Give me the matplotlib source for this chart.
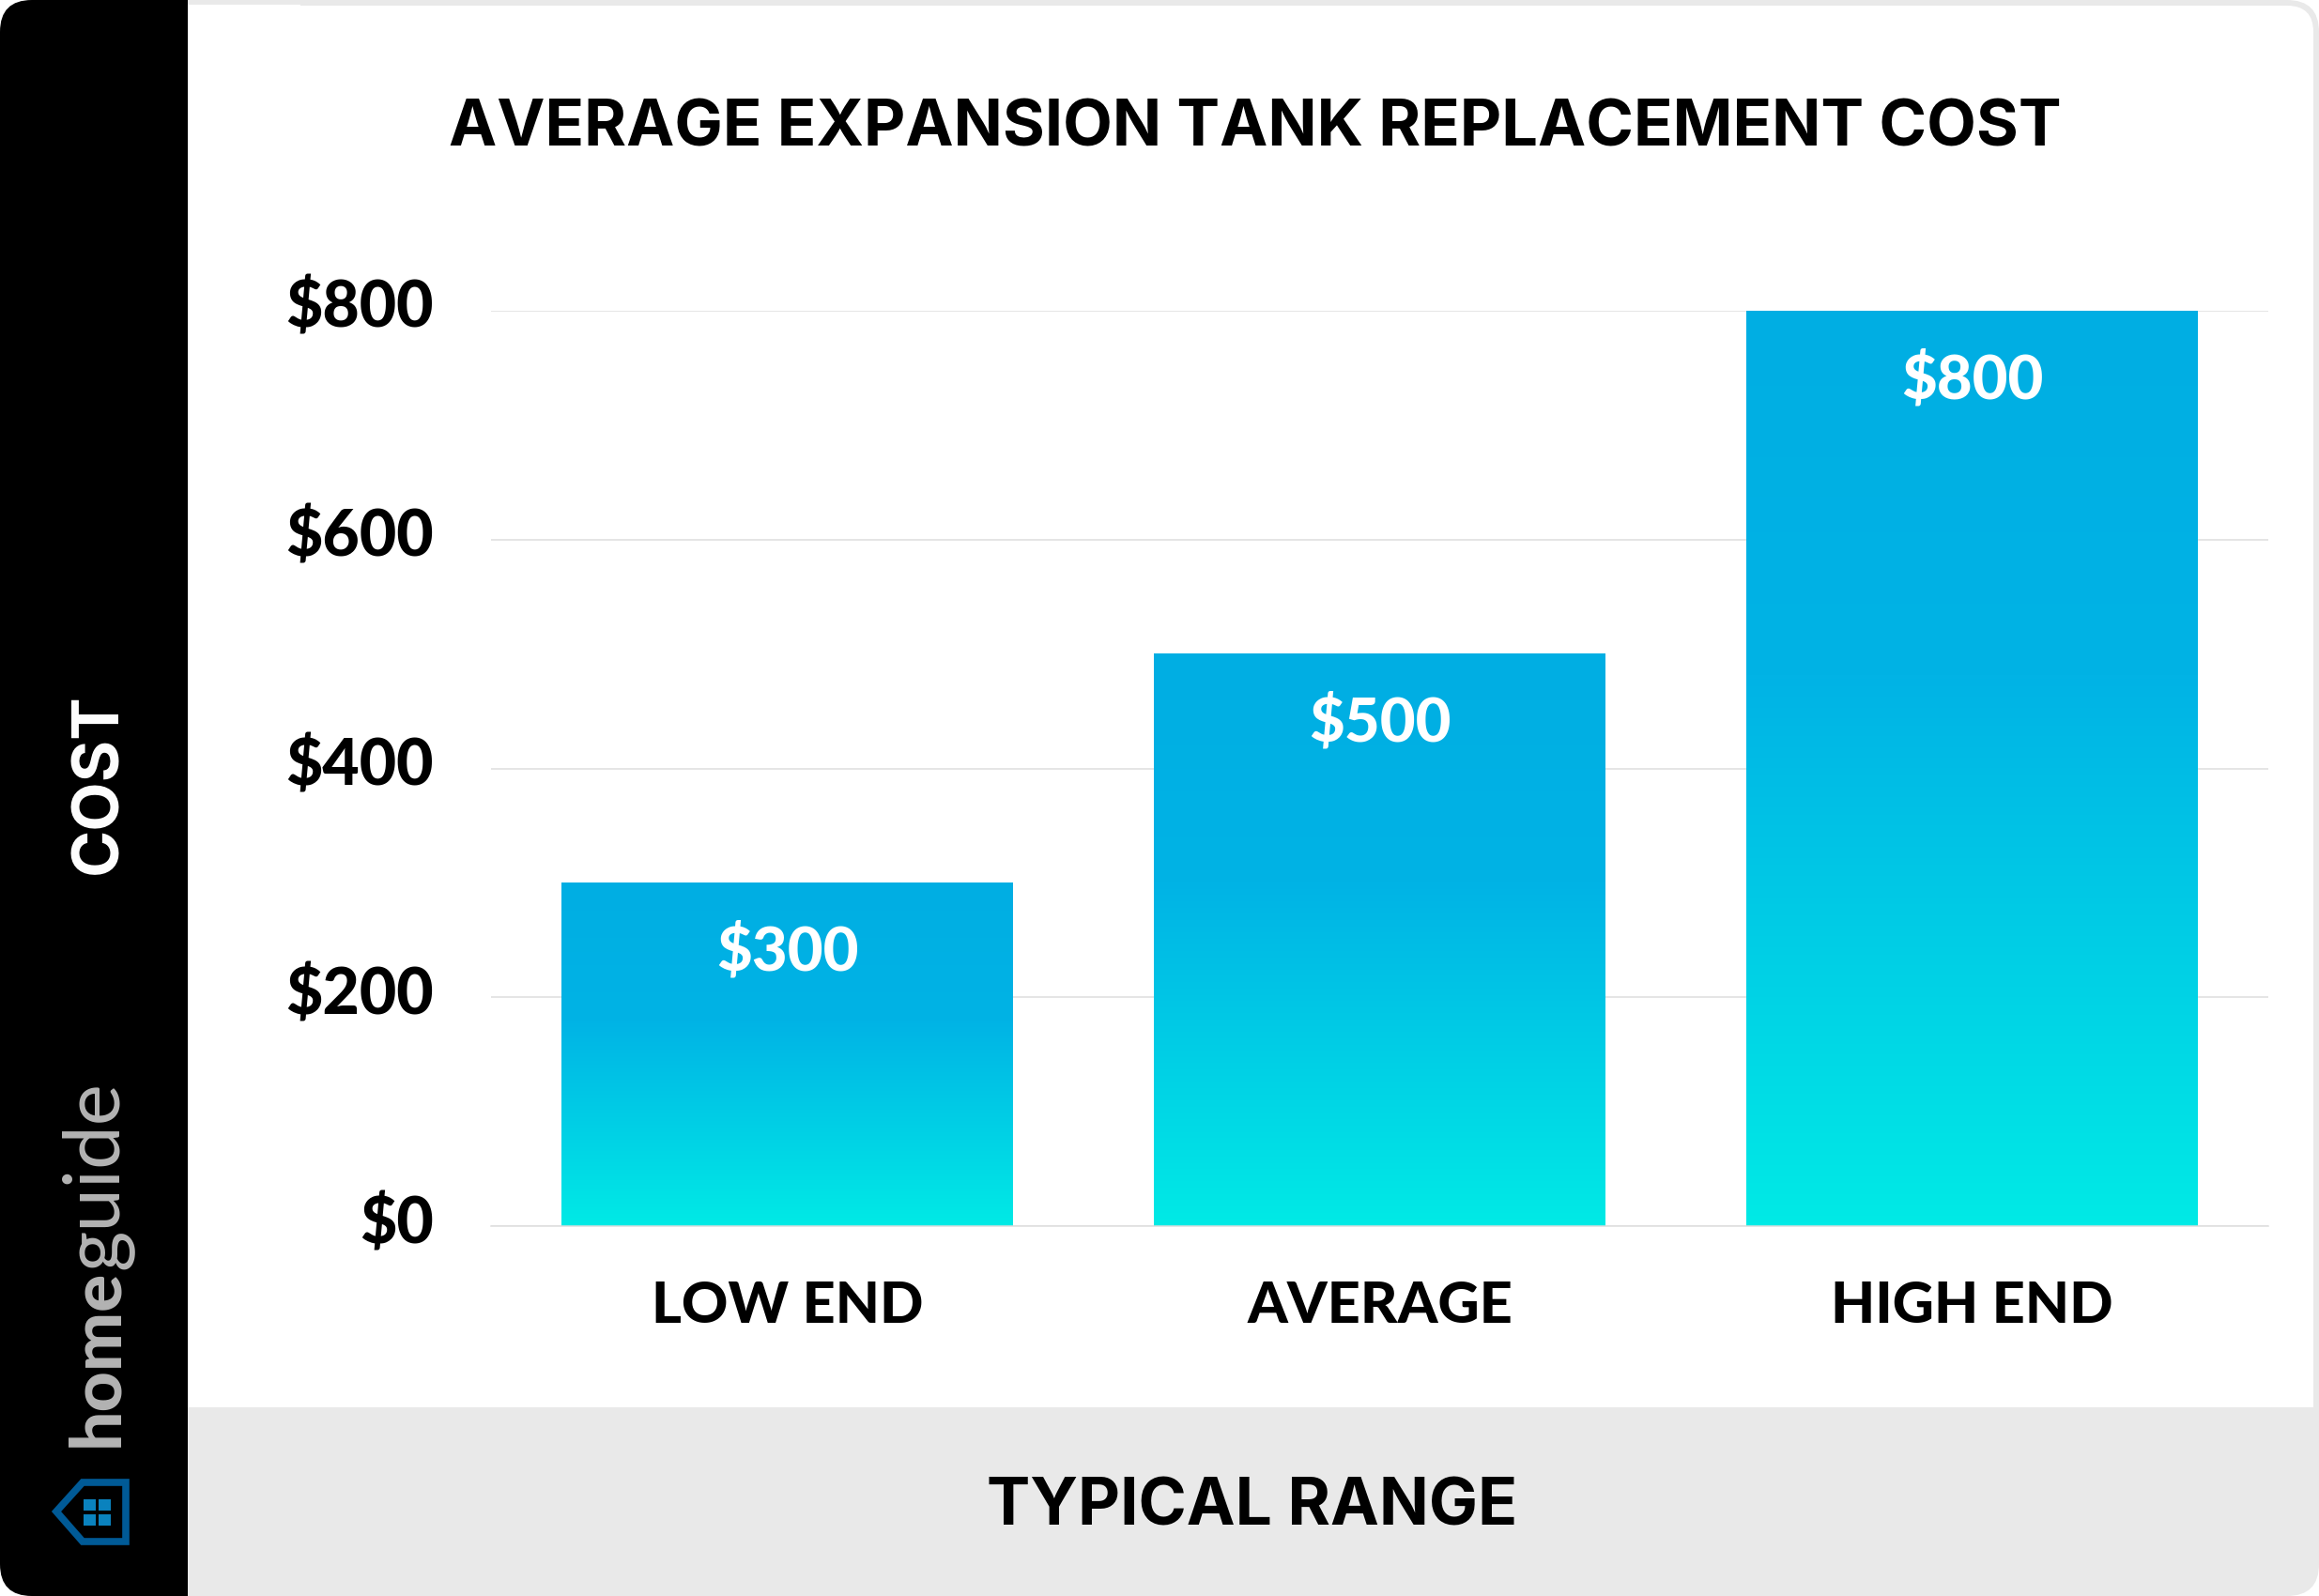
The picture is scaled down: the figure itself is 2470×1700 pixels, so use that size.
import numpy as np
import matplotlib
matplotlib.use("Agg")
import matplotlib.pyplot as plt
from matplotlib.patches import FancyBboxPatch, Rectangle, Polygon
from matplotlib.colors import LinearSegmentedColormap
from matplotlib.transforms import ScaledTranslation

categories = ["LOW END", "AVERAGE", "HIGH END"]
values = [300, 500, 800]
value_labels = ["$300", "$500", "$800"]
y_ticks = [0, 200, 400, 600, 800]
y_tick_labels = ["$0", "$200", "$400", "$600", "$800"]
title = "AVERAGE EXPANSION TANK REPLACEMENT COST"
x_title = "TYPICAL RANGE"
y_title = "COST"

FONT = ["Lato", "DejaVu Sans"]
WIDE = ["Inter", "DejaVu Sans"]
W, H = 2470, 1700
fig = plt.figure(figsize=(W / 100, H / 100), dpi=100, facecolor="white")

# page furniture, in pixel coordinates
bg = fig.add_axes([0, 0, 1, 1], zorder=0)
bg.set_xlim(0, W); bg.set_ylim(H, 0); bg.axis("off")
R = 34
bg.add_patch(FancyBboxPatch((0, 0), W, H, boxstyle=f"round,pad=0,rounding_size={R}", fc="#E9E9E9", ec="none"))
bg.add_patch(FancyBboxPatch((100, 6), W - 106, 1493 + 40, boxstyle=f"round,pad=0,rounding_size={R-6}", fc="white", ec="none"))
bg.add_patch(Rectangle((100, 1499), W - 100, 110, fc="#E9E9E9", ec="none"))
bg.add_patch(FancyBboxPatch((0, 0), 300, H, boxstyle=f"round,pad=0,rounding_size={R}", fc="black", ec="none", zorder=3))
bg.add_patch(Rectangle((200, 0), 120, H, fc="white", ec="none", zorder=3))
bg.add_patch(Rectangle((200, 1499), 120, H - 1499, fc="#E9E9E9", ec="none", zorder=3))
bg.add_patch(Rectangle((200, 0), 120, 5, fc="#E9E9E9", ec="none", zorder=3))

# logo
bg.add_patch(Polygon([(134, 1579), (88, 1579), (60, 1610), (88, 1642), (134, 1642)], closed=True,
                     fc="none", ec="#005A96", lw=5.5, zorder=4, joinstyle="miter"))
for wx in (89, 105):
    for wy in (1597, 1613):
        bg.add_patch(Rectangle((wx, wy), 12.5, 11.5, fc="#0A82BE", ec="none", zorder=4))
bg.text(125, 1541, "home", rotation=90, ha="left", va="baseline", rotation_mode="anchor", color="#B4B4B4",
        fontsize=54, fontweight="black", family=FONT, zorder=4)
bg.text(125, 1352, "guide", rotation=90, ha="left", va="baseline", rotation_mode="anchor", color="#B4B4B4",
        fontsize=60, fontweight="normal", family=FONT, zorder=4)

bg.text(106, 835, y_title, rotation=90, ha="center", va="center", color="white",
        fontsize=49, fontweight="bold", family=WIDE, zorder=4)
bg.text(1337, 137, title, ha="center", va="center", color="black",
        fontsize=49.4, fontweight="bold", family=WIDE, zorder=4)
bg.text(1334, 1606, x_title, ha="center", va="center", color="black",
        fontsize=50, fontweight="bold", family=WIDE, zorder=4)

# chart
ax = fig.add_axes([523 / W, 1 - 1306 / H, (2416 - 523) / W, (1306 - 331) / H], zorder=2)
ax.patch.set_alpha(0)
xs = np.arange(len(categories))
bars = ax.bar(xs, values, width=0.762, color="none", zorder=2)
ax.set_xlim(-0.5, 2.5)
ax.set_ylim(0, 800)
ax.set_yticks(y_ticks, y_tick_labels)
ax.set_xticks(xs, categories)
ax.grid(axis="y", color="#DEDEDE", lw=1.1, zorder=1)
ax.set_axisbelow(True)
for s in ax.spines.values():
    s.set_visible(False)
ax.spines["bottom"].set_visible(True)
ax.spines["bottom"].set_color("#DEDEDE")
ax.spines["bottom"].set_linewidth(1.1)
ax.tick_params(axis="both", length=0)
ax.tick_params(axis="y", pad=44)
ax.tick_params(axis="x", pad=41)
up = ScaledTranslation(0, 8 / 100, fig.dpi_scale_trans)
for lab in ax.get_yticklabels():
    lab.set(fontsize=49, fontweight="black", family=FONT, color="black")
    lab.set_transform(lab.get_transform() + up)
for lab in ax.get_xticklabels():
    lab.set(fontsize=44, fontweight="black", family=FONT, color="black")

cmap = LinearSegmentedColormap.from_list("tank", [(0, "#00AEE3"), (0.4, "#01B3E5"), (1, "#00EAE6")])
grad = np.linspace(0, 1, 256).reshape(-1, 1)
for b, lab in zip(bars, value_labels):
    x0, x1 = b.get_x(), b.get_x() + b.get_width()
    ax.imshow(grad, extent=(x0, x1, 0, b.get_height()), cmap=cmap, aspect="auto", origin="upper", zorder=2)
    ax.annotate(lab, (b.get_x() + b.get_width() / 2, b.get_height()), xytext=(0, -53), textcoords="offset points",
                ha="center", va="center", color="white", fontsize=47, fontweight="black", family=FONT, zorder=3)
ax.set_xlim(-0.5, 2.5)
ax.set_ylim(0, 800)

fig.savefig("out.png", dpi=100)
